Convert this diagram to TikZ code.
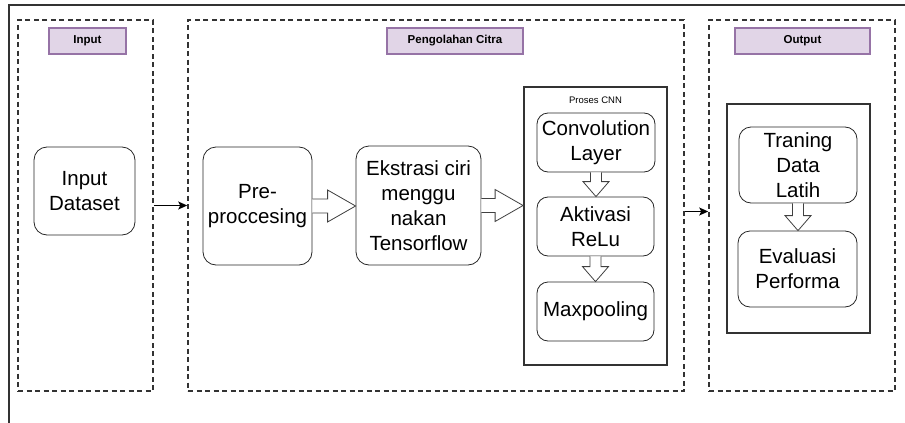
\documentclass[tikz,border=0pt]{standalone}
\usepackage{fontspec}
\setmainfont{Liberation Sans}
\usetikzlibrary{arrows.meta,calc}
\definecolor{lblfill}{HTML}{E1D5E7}
\definecolor{lbldraw}{HTML}{9673A6}
\definecolor{lineg}{HTML}{333333}
\tikzset{
  grp/.style={draw=lineg, line width=1.6pt, dash pattern=on 5pt off 3.5pt, minimum width=#1, inner sep=0pt, minimum height=371pt},
  lbl/.style={draw=lbldraw, fill=lblfill, line width=1.2pt, minimum width=#1, minimum height=26pt, inner sep=0pt, font=\fontsize{11.5}{13}\selectfont\bfseries},
  box/.style={draw=black!85, line width=0.8pt, rounded corners=11pt, align=center, inner sep=0pt, font=\fontsize{20.5}{25}\selectfont},
  frame/.style={draw=lineg, line width=1.8pt, inner sep=0pt},
  flexarr/.style={draw=black!75, line width=0.8pt, fill=white, line join=miter},
  thinarr/.style={draw=black, line width=1.3pt, -{Stealth[length=9pt,width=8pt,inset=2pt]}},
}
\newcommand\hollowH[2]{\draw[flexarr] let \p1=(#1), \p2=(#2) in (\x1,\y1-7) -- (\x2-28,\y1-7) -- (\x2-28,\y1-16) -- (\x2,\y1) -- (\x2-28,\y1+16) -- (\x2-28,\y1+7) -- (\x1,\y1+7);}
\newcommand\hollowV[2]{\draw[flexarr] let \p1=(#1), \p2=(#2) in (\x1-5.5,\y1) -- (\x1-5.5,\y2+15) -- (\x1-13,\y2+15) -- (\x1,\y2) -- (\x1+13,\y2+15) -- (\x1+5.5,\y2+15) -- (\x1+5.5,\y1);}
\begin{document}
\begin{tikzpicture}[x=1pt,y=-1pt]
\useasboundingbox (0,0) rectangle (905,423);
% outer frame (partly visible)
\coordinate (fbl) at (9,423);
\coordinate (ftl) at (9,5);
\coordinate (ftr) at (905,5);
\draw[draw=lineg, line width=1.8pt] (fbl) -- (ftl) -- (ftr);

% groups
\node[grp=135pt] (ingrp) at (85.5,205.5) {};
\node[grp=496pt] (pcgrp) at (436,205.5) {};
\node[grp=186pt] (outgrp) at (802,205.5) {};

\node[lbl=77pt] (inlbl) at (87.5,41) {Input};
\node[lbl=136pt] (pclbl) at (455,41) {Pengolahan Citra};
\node[lbl=135pt] (outlbl) at (802.5,41) {Output};

% input
\node[box, minimum width=101pt, minimum height=88pt, rounded corners=13pt] (dataset) at (84.5,191) {Input\\Dataset};

% processing
\node[box, minimum width=109pt, minimum height=118pt, rounded corners=13pt] (pre) at (257.5,206) {Pre-\\proccesing};
\node[box, minimum width=125pt, minimum height=119pt, rounded corners=13pt] (eks) at (418.5,205.5) {Ekstrasi ciri\\menggu\\nakan\\Tensorflow};

\node[frame, draw, minimum width=143pt, minimum height=278pt] (cnn) at (595.5,226) {};
\node[inner sep=0pt, font=\fontsize{9.5}{11}\selectfont] (cnnlbl) at (595.5,100) {Proses CNN};
\node[box, minimum width=118pt, minimum height=59pt] (conv) at (596,142.5) {Convolution\\Layer};
\node[box, minimum width=117pt, minimum height=59pt] (akt) at (595.5,226.5) {Aktivasi\\ReLu};
\node[box, minimum width=117pt, minimum height=59pt] (maxp) at (595.5,311.5) {Maxpooling};

% output
\node[frame, draw, minimum width=143pt, minimum height=229pt] (outin) at (798.5,218.5) {};
\node[box, minimum width=118pt, minimum height=76pt, rounded corners=12pt] (train) at (798,165) {Traning\\Data\\Latih};
\node[box, minimum width=119pt, minimum height=76pt, rounded corners=12pt] (eval) at (797.5,269) {Evaluasi\\Performa};

% hollow arrows
\hollowH{pre.east}{eks.west}
\hollowH{eks.east}{cnn.west |- eks.east}
\hollowV{conv.south}{akt.north}
\hollowV{akt.south}{maxp.north}
\hollowV{train.south}{eval.north}

% thin arrows
\draw[thinarr] (ingrp.east) -- (pcgrp.west);
\draw[thinarr] ([yshift=-6pt]pcgrp.east) -- ([yshift=-6pt]outgrp.west);
\end{tikzpicture}
\end{document}
